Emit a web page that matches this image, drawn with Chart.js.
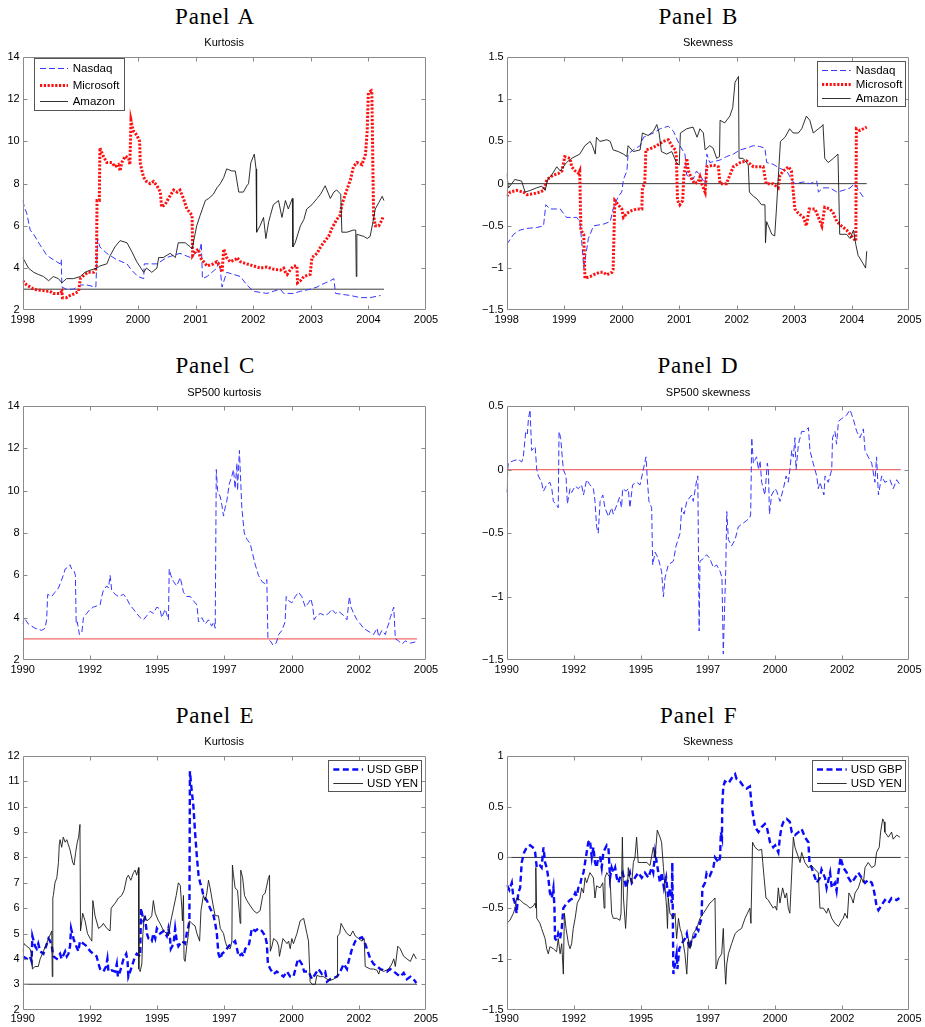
<!DOCTYPE html>
<html>
<head>
<meta charset="utf-8">
<script src="https://cdn.jsdelivr.net/npm/chart.js@4.4.1/dist/chart.umd.min.js"></script>
<style>
  html, body { margin: 0; padding: 0; background: #fff; }
  #fig { position: relative; width: 925px; height: 1027px; overflow: hidden; background: #fff; }
  .ttl { position: absolute; white-space: nowrap; text-align: center; color: #000; }
  .panel { font-family: "Liberation Serif", "Times New Roman", serif; font-size: 23px; line-height: 23px; letter-spacing: 0.8px; word-spacing: 2px; }
  .sub { font-family: "Liberation Sans", Arial, sans-serif; font-size: 11px; line-height: 11px; }
  canvas { position: absolute; }
</style>
</head>
<body>
<div id="fig"></div>
<script>
// ---------- Panel A: kurtosis, 1998-2004 ----------
const nasdaqKurt = [
  [1998.00,7.2],[1998.04,6.8],[1998.07,6.6],[1998.13,5.8],[1998.19,5.6],[1998.30,5.1],[1998.42,4.6],
  [1998.53,4.4],[1998.65,4.2],[1998.67,4.4],[1998.68,3.1],[1998.76,3.0],[1998.88,3.0],[1999.00,3.2],
  [1999.11,3.2],[1999.27,3.1],[1999.30,5.4],[1999.34,5.0],[1999.46,4.7],[1999.63,4.4],[1999.81,4.2],
  [1999.89,3.9],[2000.00,3.6],[2000.10,3.5],[2000.11,4.2],[2000.33,4.2],[2000.50,4.5],[2000.73,4.7],
  [2000.91,4.5],[2001.08,4.9],[2001.10,5.2],[2001.12,3.5],[2001.20,3.6],[2001.37,4.0],[2001.40,4.3],
  [2001.43,3.9],[2001.46,3.1],[2001.54,3.8],[2001.78,3.6],[2001.89,3.2],[2002.01,2.9],[2002.24,2.8],
  [2002.35,2.9],[2002.47,3.0],[2002.53,2.8],[2002.70,2.8],[2002.82,2.9],[2002.99,3.0],[2003.11,3.1],
  [2003.17,3.2],[2003.34,3.4],[2003.40,3.5],[2003.43,2.8],[2003.69,2.7],[2003.86,2.6],[2004.03,2.6],
  [2004.21,2.7]
];
const microsoftKurt = [
  [1998.00,3.4],[1998.07,3.2],[1998.19,3.0],[1998.30,2.95],[1998.47,2.9],[1998.53,2.8],[1998.65,2.8],
  [1998.68,2.9],[1998.69,2.6],[1998.76,2.6],[1998.82,2.7],[1998.91,2.8],[1998.97,2.9],[1999.00,3.5],
  [1999.08,3.7],[1999.14,3.8],[1999.23,3.8],[1999.28,4.0],[1999.29,7.2],[1999.33,7.2],[1999.34,9.7],
  [1999.40,9.3],[1999.46,9.0],[1999.55,9.0],[1999.60,8.8],[1999.66,8.9],[1999.69,8.6],[1999.72,9.0],
  [1999.78,9.3],[1999.84,9.2],[1999.86,8.9],[1999.88,11.0],[1999.92,10.5],[1999.98,10.3],[2000.03,10.0],
  [2000.04,9.0],[2000.07,8.6],[2000.10,8.3],[2000.15,8.1],[2000.21,8.0],[2000.27,8.1],[2000.33,7.9],
  [2000.39,7.6],[2000.41,6.9],[2000.47,7.0],[2000.53,7.3],[2000.62,7.7],[2000.68,7.6],[2000.73,7.7],
  [2000.79,7.3],[2000.85,6.8],[2000.91,6.6],[2000.94,6.5],[2000.95,4.6],[2001.00,4.8],[2001.05,4.9],
  [2001.08,4.5],[2001.14,4.3],[2001.20,4.1],[2001.31,4.2],[2001.37,4.3],[2001.43,4.1],[2001.46,3.8],
  [2001.49,4.9],[2001.54,4.5],[2001.60,4.3],[2001.69,4.4],[2001.72,4.5],[2001.78,4.3],[2001.89,4.2],
  [2002.01,4.1],[2002.12,4.0],[2002.24,4.05],[2002.35,3.95],[2002.47,3.9],[2002.53,4.0],[2002.56,3.8],
  [2002.59,3.7],[2002.64,3.9],[2002.70,4.1],[2002.76,4.1],[2002.77,3.3],[2002.82,3.4],[2002.88,3.6],
  [2002.99,3.7],[2003.02,4.5],[2003.11,4.7],[2003.17,5.0],[2003.25,5.3],[2003.31,5.5],[2003.37,5.9],
  [2003.45,6.3],[2003.51,6.5],[2003.54,7.0],[2003.60,7.5],[2003.69,8.2],[2003.74,8.8],[2003.80,9.0],
  [2003.89,8.9],[2003.95,9.4],[2003.98,10.5],[2003.99,11.5],[2004.00,12.3],[2004.05,12.4],[2004.06,12.3],
  [2004.09,6.5],[2004.12,6.0],[2004.18,6.0],[2004.24,6.3],[2004.25,6.4]
];
const amazonKurt = [
  [1998.00,4.5],[1998.04,4.3],[1998.10,4.0],[1998.19,3.8],[1998.27,3.7],[1998.36,3.6],[1998.45,3.4],
  [1998.53,3.6],[1998.62,3.5],[1998.68,3.3],[1998.76,3.5],[1998.88,3.5],[1999.00,3.6],[1999.08,3.8],
  [1999.17,3.9],[1999.29,4.0],[1999.34,4.1],[1999.46,4.2],[1999.52,4.6],[1999.60,5.0],[1999.69,5.3],
  [1999.81,5.2],[1999.89,4.8],[1999.98,4.3],[2000.10,3.8],[2000.15,4.0],[2000.24,3.8],[2000.33,4.0],
  [2000.36,4.5],[2000.44,4.5],[2000.56,4.7],[2000.65,4.5],[2000.70,5.2],[2000.82,5.2],[2000.91,5.0],
  [2000.94,4.9],[2001.02,6.0],[2001.08,6.5],[2001.17,7.2],[2001.23,7.3],[2001.31,7.5],[2001.37,7.8],
  [2001.43,8.0],[2001.49,8.3],[2001.54,8.7],[2001.63,8.6],[2001.69,8.6],[2001.75,7.6],[2001.83,7.6],
  [2001.89,7.9],[2001.92,8.0],[2001.96,9.0],[2002.02,9.4],[2002.05,8.7],[2002.06,5.7],[2002.12,6.0],
  [2002.18,6.4],[2002.22,5.4],[2002.27,6.2],[2002.30,6.5],[2002.35,7.0],[2002.44,7.2],[2002.50,6.4],
  [2002.56,7.2],[2002.61,6.8],[2002.68,7.3],[2002.69,5.0],[2002.73,5.2],[2002.82,6.0],[2002.88,6.3],
  [2002.93,6.8],[2003.02,7.0],[2003.11,7.3],[2003.17,7.5],[2003.25,7.9],[2003.34,7.3],[2003.40,7.6],
  [2003.45,7.7],[2003.52,7.5],[2003.54,5.7],[2003.63,5.7],[2003.74,5.8],[2003.78,5.8],[2003.79,3.6],
  [2003.80,5.6],[2003.92,5.5],[2003.98,5.4],[2004.03,5.5],[2004.08,6.2],[2004.12,6.8],[2004.18,7.1],
  [2004.24,7.4],[2004.27,7.2]
];
const normalKurtA = [[1998.00,3],[2004.27,3]];

// ---------- Panel B: skewness, 1998-2004 ----------
const nasdaqSkew = [
  [1998.00,-0.72],[1998.12,-0.6],[1998.23,-0.55],[1998.35,-0.53],[1998.52,-0.52],[1998.64,-0.5],
  [1998.68,-0.25],[1998.75,-0.3],[1998.93,-0.3],[1999.04,-0.4],[1999.22,-0.4],[1999.27,-0.45],
  [1999.30,-0.65],[1999.34,-1.0],[1999.42,-0.65],[1999.51,-0.5],[1999.68,-0.48],[1999.80,-0.45],
  [1999.85,-0.3],[1999.94,-0.15],[2000.00,-0.1],[2000.03,0.05],[2000.09,0.15],[2000.11,0.35],
  [2000.20,0.4],[2000.32,0.45],[2000.38,0.55],[2000.55,0.6],[2000.67,0.65],[2000.81,0.68],[2000.90,0.62],
  [2001.01,0.45],[2001.10,0.35],[2001.13,0.1],[2001.24,0.05],[2001.30,0.15],[2001.36,0.1],[2001.45,0.0],
  [2001.48,0.35],[2001.53,0.25],[2001.71,0.28],[2001.82,0.32],[2001.94,0.35],[2002.06,0.4],[2002.17,0.42],
  [2002.29,0.45],[2002.40,0.44],[2002.49,0.42],[2002.52,0.25],[2002.63,0.23],[2002.75,0.18],[2002.87,0.15],
  [2002.95,0.05],[2003.01,0.0],[2003.16,0.02],[2003.27,0.0],[2003.39,0.03],[2003.42,-0.1],[2003.50,-0.05],
  [2003.62,-0.05],[2003.74,-0.1],[2003.85,-0.08],[2003.97,-0.05],[2004.05,0.0],[2004.14,-0.1],[2004.21,-0.17]
];
const microsoftSkew = [
  [1998.00,-0.15],[1998.06,-0.1],[1998.17,-0.08],[1998.29,-0.1],[1998.35,-0.13],[1998.46,-0.12],
  [1998.58,-0.1],[1998.64,-0.08],[1998.70,0.05],[1998.81,0.1],[1998.90,0.12],[1998.96,0.15],[1999.01,0.32],
  [1999.10,0.3],[1999.13,0.2],[1999.19,0.15],[1999.25,0.12],[1999.27,0.15],[1999.29,-0.55],[1999.34,-0.6],
  [1999.36,-1.12],[1999.45,-1.1],[1999.54,-1.07],[1999.62,-1.05],[1999.68,-1.05],[1999.74,-1.08],
  [1999.83,-1.05],[1999.85,-1.02],[1999.88,-0.2],[1999.94,-0.25],[2000.00,-0.3],[2000.03,-0.4],
  [2000.09,-0.35],[2000.17,-0.32],[2000.26,-0.3],[2000.35,-0.3],[2000.36,-0.05],[2000.40,0.0],[2000.42,0.4],
  [2000.52,0.42],[2000.61,0.45],[2000.72,0.5],[2000.81,0.52],[2000.87,0.45],[2000.93,0.4],[2000.95,0.32],
  [2000.97,-0.2],[2001.01,-0.25],[2001.06,-0.2],[2001.08,0.1],[2001.13,0.3],[2001.16,0.15],[2001.22,0.05],
  [2001.27,0.0],[2001.33,0.02],[2001.36,0.08],[2001.39,0.0],[2001.45,-0.1],[2001.48,0.2],[2001.59,0.22],
  [2001.68,0.2],[2001.71,0.0],[2001.82,0.0],[2001.88,0.1],[2001.94,0.2],[2002.06,0.25],[2002.17,0.27],
  [2002.29,0.2],[2002.46,0.2],[2002.51,0.0],[2002.63,0.0],[2002.72,-0.05],[2002.75,0.1],[2002.81,0.15],
  [2002.90,0.2],[2002.95,0.15],[2003.01,-0.3],[2003.07,-0.35],[2003.16,-0.4],[2003.21,-0.5],[2003.26,-0.3],
  [2003.36,-0.3],[2003.42,-0.4],[2003.48,-0.5],[2003.53,-0.28],[2003.62,-0.3],[2003.68,-0.35],[2003.74,-0.45],
  [2003.82,-0.5],[2003.91,-0.55],[2003.97,-0.6],[2004.03,-0.65],[2004.07,-0.68],[2004.08,0.65],
  [2004.14,0.63],[2004.20,0.65],[2004.26,0.67]
];
const amazonSkew = [
  [1998.00,0.12],[1998.03,-0.05],[1998.09,0.0],[1998.14,0.05],[1998.26,0.03],[1998.32,-0.1],[1998.41,-0.08],
  [1998.52,-0.05],[1998.61,-0.03],[1998.67,-0.08],[1998.71,0.05],[1998.78,0.1],[1998.87,0.2],[1998.93,0.15],
  [1999.04,0.25],[1999.13,0.3],[1999.27,0.35],[1999.36,0.45],[1999.45,0.5],[1999.49,0.45],[1999.54,0.35],
  [1999.56,0.55],[1999.62,0.5],[1999.74,0.52],[1999.80,0.5],[1999.85,0.4],[1999.94,0.38],[2000.03,0.35],
  [2000.09,0.32],[2000.11,0.45],[2000.20,0.38],[2000.32,0.4],[2000.36,0.6],[2000.46,0.57],[2000.55,0.62],
  [2000.61,0.7],[2000.65,0.6],[2000.69,0.38],[2000.78,0.35],[2000.87,0.38],[2000.95,0.25],[2001.00,0.22],
  [2001.02,0.6],[2001.13,0.65],[2001.24,0.67],[2001.31,0.55],[2001.36,0.65],[2001.42,0.6],[2001.45,0.4],
  [2001.53,0.45],[2001.59,0.42],[2001.65,0.3],[2001.70,0.32],[2001.71,0.75],[2001.79,0.72],[2001.88,0.8],
  [2001.93,0.9],[2001.97,1.2],[2002.03,1.27],[2002.04,0.3],[2002.11,0.3],[2002.17,0.25],[2002.20,0.22],
  [2002.22,-0.1],[2002.29,-0.15],[2002.35,-0.18],[2002.43,-0.25],[2002.49,-0.25],[2002.50,-0.7],
  [2002.52,-0.45],[2002.55,-0.5],[2002.61,-0.6],[2002.66,-0.62],[2002.69,-0.3],[2002.72,0.05],[2002.76,0.5],
  [2002.84,0.55],[2002.92,0.65],[2002.98,0.6],[2003.07,0.6],[2003.13,0.65],[2003.21,0.8],[2003.27,0.75],
  [2003.33,0.6],[2003.42,0.65],[2003.48,0.68],[2003.50,0.7],[2003.53,0.3],[2003.59,0.25],[2003.68,0.3],
  [2003.76,0.35],[2003.79,-0.6],[2003.91,-0.6],[2003.97,-0.65],[2004.03,-0.55],[2004.07,-0.72],
  [2004.11,-0.85],[2004.20,-0.95],[2004.24,-1.0],[2004.26,-0.8]
];
const zeroSkewB = [[1998.00,0],[2004.26,0]];

// ---------- Panel C: SP500 kurtosis, 1990-2004 ----------
const sp500Kurt = [
  [1990.00,3.7],[1990.05,4.0],[1990.21,3.7],[1990.33,3.6],[1990.46,3.5],[1990.71,3.4],[1990.83,3.5],
  [1990.89,3.9],[1990.93,5.1],[1991.08,5.0],[1991.20,5.2],[1991.33,5.4],[1991.39,5.6],[1991.51,6.0],
  [1991.58,6.3],[1991.70,6.4],[1991.76,6.5],[1991.82,6.3],[1991.91,6.2],[1991.96,6.0],[1991.99,3.7],
  [1992.03,3.8],[1992.11,3.2],[1992.20,3.3],[1992.26,4.0],[1992.38,4.2],[1992.51,4.4],[1992.63,4.5],
  [1992.75,4.55],[1992.88,4.6],[1992.94,5.0],[1993.00,5.3],[1993.13,5.5],[1993.19,5.4],[1993.25,6.0],
  [1993.31,5.3],[1993.44,5.1],[1993.56,5.0],[1993.75,5.1],[1993.87,4.9],[1993.99,4.6],[1994.12,4.4],
  [1994.24,4.2],[1994.37,4.0],[1994.49,3.9],[1994.62,4.1],[1994.74,4.3],[1994.86,4.2],[1994.99,4.5],
  [1995.11,4.4],[1995.17,4.0],[1995.30,4.4],[1995.42,3.9],[1995.45,6.3],[1995.51,6.0],[1995.61,5.7],
  [1995.73,5.5],[1995.86,5.9],[1995.98,5.2],[1996.10,5.0],[1996.23,5.0],[1996.35,4.8],[1996.48,4.6],
  [1996.54,3.8],[1996.66,4.0],[1996.79,3.7],[1996.91,3.9],[1997.03,3.6],[1997.10,3.8],[1997.16,3.5],
  [1997.20,11.0],[1997.25,10.0],[1997.35,9.7],[1997.41,9.3],[1997.47,8.8],[1997.53,9.2],[1997.59,9.5],
  [1997.68,10.3],[1997.78,10.7],[1997.84,11.0],[1997.90,10.1],[1997.97,11.3],[1997.99,10.0],[1998.06,11.9],
  [1998.15,9.2],[1998.24,8.0],[1998.34,7.7],[1998.46,7.5],[1998.65,6.5],[1998.77,6.0],[1998.90,5.7],
  [1999.02,5.6],[1999.08,5.8],[1999.12,3.0],[1999.21,2.9],[1999.31,2.7],[1999.43,2.8],[1999.52,3.2],
  [1999.64,3.4],[1999.73,3.7],[1999.76,3.8],[1999.80,5.0],[1999.89,4.8],[2000.01,4.7],[2000.14,5.0],
  [2000.26,5.2],[2000.38,5.0],[2000.51,4.5],[2000.63,4.7],[2000.72,4.9],[2000.79,4.5],[2000.84,3.9],
  [2000.94,4.1],[2001.07,4.2],[2001.25,4.1],[2001.38,4.2],[2001.50,4.4],[2001.63,4.2],[2001.75,4.3],
  [2001.94,4.1],[2002.06,3.9],[2002.15,5.0],[2002.21,4.5],[2002.31,4.2],[2002.43,3.9],[2002.56,3.7],
  [2002.68,3.5],[2002.80,3.4],[2002.93,3.3],[2003.05,3.2],[2003.18,3.5],[2003.24,3.1],[2003.36,3.4],
  [2003.49,3.2],[2003.55,3.5],[2003.61,3.7],[2003.67,4.0],[2003.80,4.5],[2003.86,3.0],[2003.98,2.9],
  [2004.11,2.75],[2004.23,2.9],[2004.42,2.8],[2004.60,2.85]
];
const normalKurtC = [[1990.00,3],[2004.67,3]];

// ---------- Panel D: SP500 skewness, 1990-2004 ----------
const sp500Skew = [
  [1990.00,-0.15],[1990.01,-0.18],[1990.04,0.0],[1990.06,0.05],[1990.25,0.07],[1990.43,0.08],[1990.56,0.06],
  [1990.62,0.1],[1990.71,0.3],[1990.77,0.28],[1990.81,0.4],[1990.87,0.47],[1990.93,0.15],[1991.06,0.18],
  [1991.12,0.0],[1991.18,-0.05],[1991.30,-0.1],[1991.37,-0.17],[1991.49,-0.12],[1991.61,-0.1],[1991.68,-0.15],
  [1991.74,-0.25],[1991.86,-0.28],[1991.92,-0.3],[1991.95,0.3],[1992.01,0.25],[1992.11,0.0],[1992.21,-0.05],
  [1992.26,-0.27],[1992.36,-0.15],[1992.42,-0.18],[1992.55,-0.13],[1992.67,-0.15],[1992.79,-0.12],
  [1992.86,-0.2],[1992.98,-0.08],[1993.10,-0.12],[1993.23,-0.15],[1993.29,-0.25],[1993.35,-0.45],
  [1993.41,-0.5],[1993.48,-0.25],[1993.58,-0.2],[1993.66,-0.3],[1993.79,-0.37],[1993.91,-0.3],[1993.97,-0.35],
  [1994.10,-0.28],[1994.20,-0.22],[1994.28,-0.3],[1994.32,-0.15],[1994.45,-0.17],[1994.53,-0.15],
  [1994.59,-0.3],[1994.69,-0.12],[1994.84,-0.1],[1994.97,-0.12],[1995.09,0.0],[1995.19,0.1],[1995.24,-0.08],
  [1995.30,-0.25],[1995.40,-0.3],[1995.44,-0.75],[1995.53,-0.65],[1995.65,-0.7],[1995.77,-0.8],[1995.84,-1.0],
  [1995.90,-0.85],[1996.02,-0.75],[1996.21,-0.72],[1996.31,-0.6],[1996.46,-0.5],[1996.52,-0.3],[1996.61,-0.35],
  [1996.71,-0.25],[1996.89,-0.2],[1996.95,-0.25],[1997.08,-0.08],[1997.12,-0.05],[1997.17,-1.27],
  [1997.20,-0.72],[1997.33,-0.7],[1997.45,-0.67],[1997.57,-0.7],[1997.70,-0.77],[1997.82,-0.75],
  [1997.95,-0.8],[1998.02,-0.85],[1998.07,-1.45],[1998.13,-1.0],[1998.16,-0.8],[1998.20,-0.33],
  [1998.26,-0.55],[1998.38,-0.6],[1998.51,-0.55],[1998.63,-0.45],[1998.82,-0.42],[1998.94,-0.4],
  [1999.06,-0.38],[1999.09,-0.35],[1999.13,0.25],[1999.19,0.05],[1999.31,0.1],[1999.38,0.0],[1999.44,0.07],
  [1999.50,-0.1],[1999.62,-0.2],[1999.71,0.05],[1999.75,0.0],[1999.79,-0.35],[1999.87,-0.2],[2000.00,-0.15],
  [2000.06,-0.17],[2000.18,-0.25],[2000.31,-0.15],[2000.41,-0.05],[2000.49,-0.1],[2000.55,0.0],[2000.62,0.15],
  [2000.68,0.1],[2000.74,0.25],[2000.78,0.0],[2000.87,0.2],[2000.99,0.3],[2001.11,0.3],[2001.24,0.33],
  [2001.30,0.15],[2001.42,0.05],[2001.55,-0.05],[2001.61,-0.15],[2001.67,-0.1],[2001.82,-0.2],[2001.86,-0.05],
  [2001.98,-0.1],[2002.11,0.0],[2002.14,0.25],[2002.23,0.3],[2002.29,0.2],[2002.36,0.38],[2002.48,0.4],
  [2002.67,0.43],[2002.79,0.47],[2002.91,0.4],[2003.04,0.3],[2003.16,0.25],[2003.29,0.32],[2003.35,0.15],
  [2003.47,0.1],[2003.60,0.05],[2003.72,-0.1],[2003.78,0.1],[2003.85,-0.2],[2003.97,-0.05],[2004.09,-0.1],
  [2004.28,-0.08],[2004.40,-0.15],[2004.53,-0.08],[2004.65,-0.12]
];
const zeroSkewD = [[1990.00,0],[2004.68,0]];

// ---------- Panel E: FX kurtosis, 1990-2004 ----------
const gbpKurt = [
  [1990.00,4.1],[1990.15,4.0],[1990.27,4.1],[1990.33,3.9],[1990.36,4.9],[1990.46,4.5],[1990.52,4.4],
  [1990.58,4.6],[1990.65,4.3],[1990.77,4.2],[1990.87,4.5],[1990.96,4.8],[1991.02,4.7],[1991.08,4.5],
  [1991.14,4.1],[1991.27,4.0],[1991.39,4.2],[1991.45,4.0],[1991.58,4.3],[1991.64,4.1],[1991.70,4.2],
  [1991.76,4.5],[1991.80,5.2],[1991.89,4.8],[1991.95,4.6],[1992.07,4.3],[1992.13,4.7],[1992.26,4.6],
  [1992.38,4.5],[1992.51,4.3],[1992.63,4.2],[1992.75,4.1],[1992.82,3.8],[1992.88,3.6],[1993.00,3.5],
  [1993.10,3.7],[1993.15,4.0],[1993.19,3.5],[1993.31,3.55],[1993.44,3.5],[1993.50,3.8],[1993.54,3.3],
  [1993.62,3.5],[1993.75,4.0],[1993.85,4.2],[1993.90,3.9],[1993.93,3.3],[1994.06,3.7],[1994.12,3.9],
  [1994.18,4.1],[1994.24,4.2],[1994.37,4.1],[1994.40,6.0],[1994.49,5.5],[1994.55,5.6],[1994.62,5.0],
  [1994.68,4.8],[1994.80,4.7],[1994.86,5.0],[1994.93,4.8],[1994.99,5.2],[1995.11,5.0],[1995.24,5.1],
  [1995.36,4.9],[1995.42,5.2],[1995.48,4.8],[1995.51,4.4],[1995.61,4.6],[1995.67,5.2],[1995.73,4.7],
  [1995.79,4.5],[1995.92,4.7],[1996.04,4.6],[1996.10,5.0],[1996.17,5.3],[1996.20,5.5],[1996.22,11.4],
  [1996.27,10.8],[1996.35,10.0],[1996.41,9.0],[1996.48,8.0],[1996.54,7.3],[1996.60,7.0],[1996.66,6.8],
  [1996.72,6.5],[1996.85,6.3],[1996.97,6.0],[1997.10,5.7],[1997.16,5.4],[1997.22,5.0],[1997.28,4.2],
  [1997.35,4.0],[1997.41,4.2],[1997.53,4.3],[1997.66,4.5],[1997.78,4.6],[1997.90,4.7],[1997.97,4.4],
  [1998.03,4.1],[1998.15,4.2],[1998.21,4.1],[1998.28,4.4],[1998.40,4.5],[1998.46,4.8],[1998.52,5.2],
  [1998.65,5.1],[1998.77,5.2],[1998.90,5.1],[1999.02,4.9],[1999.08,4.6],[1999.12,3.8],[1999.21,3.6],
  [1999.33,3.4],[1999.45,3.5],[1999.58,3.4],[1999.70,3.3],[1999.83,3.5],[1999.95,3.3],[2000.07,3.3],
  [2000.24,4.0],[2000.32,3.9],[2000.38,3.8],[2000.47,3.5],[2000.63,3.5],[2000.76,3.2],[2001.00,3.6],
  [2001.13,3.4],[2001.25,3.5],[2001.32,3.1],[2001.44,3.2],[2001.56,3.25],[2001.69,3.3],[2001.81,3.5],
  [2001.94,3.8],[2002.06,3.6],[2002.12,3.9],[2002.25,4.4],[2002.37,4.7],[2002.49,4.8],[2002.62,4.85],
  [2002.74,4.6],[2002.80,4.4],[2002.93,4.0],[2003.05,3.8],[2003.18,3.7],[2003.30,3.6],[2003.42,3.55],
  [2003.55,3.5],[2003.67,3.6],[2003.80,3.5],[2004.04,3.3],[2004.17,3.45],[2004.29,3.2],[2004.42,3.3],
  [2004.54,3.2],[2004.64,3.05]
];
const yenKurt = [
  [1990.00,4.3],[1990.05,4.6],[1990.15,4.5],[1990.27,4.4],[1990.33,4.2],[1990.36,3.6],[1990.46,3.7],
  [1990.58,3.7],[1990.65,4.0],[1990.77,4.3],[1990.89,4.6],[1990.96,4.8],[1991.08,5.1],[1991.10,3.3],
  [1991.12,6.4],[1991.14,6.5],[1991.20,7.0],[1991.27,7.2],[1991.33,7.8],[1991.36,8.5],[1991.39,8.7],
  [1991.45,8.4],[1991.51,8.8],[1991.58,8.6],[1991.64,8.7],[1991.70,8.5],[1991.76,8.3],[1991.86,7.8],
  [1991.91,7.7],[1991.97,8.2],[1992.03,8.6],[1992.08,8.8],[1992.13,9.3],[1992.15,5.1],[1992.20,5.5],
  [1992.23,5.8],[1992.32,5.5],[1992.41,5.0],[1992.51,4.8],[1992.57,4.7],[1992.61,6.3],[1992.69,5.7],
  [1992.82,5.2],[1992.94,5.3],[1993.00,5.4],[1993.13,5.2],[1993.25,5.1],[1993.29,6.0],[1993.44,6.2],
  [1993.56,6.4],[1993.68,6.5],[1993.77,6.7],[1993.87,7.2],[1993.93,7.3],[1994.02,7.1],[1994.12,7.4],
  [1994.18,7.5],[1994.24,7.3],[1994.31,7.6],[1994.32,3.6],[1994.37,3.5],[1994.43,3.8],[1994.47,5.0],
  [1994.52,5.7],[1994.62,5.5],[1994.74,5.6],[1994.80,5.7],[1994.86,6.3],[1994.93,5.8],[1995.05,5.5],
  [1995.11,5.4],[1995.24,5.1],[1995.36,5.0],[1995.42,4.9],[1995.51,5.5],[1995.61,6.0],[1995.71,6.5],
  [1995.79,7.0],[1995.86,6.9],[1995.92,6.0],[1995.94,5.5],[1995.98,6.5],[1996.00,4.0],[1996.04,3.9],
  [1996.10,4.5],[1996.17,5.0],[1996.20,5.5],[1996.29,5.4],[1996.41,5.3],[1996.48,5.0],[1996.58,4.7],
  [1996.63,5.9],[1996.72,6.5],[1996.79,6.3],[1996.85,6.6],[1996.91,7.1],[1996.97,6.8],[1997.10,6.0],
  [1997.16,5.7],[1997.28,5.7],[1997.35,5.2],[1997.47,5.0],[1997.53,4.7],[1997.59,4.5],[1997.72,4.4],
  [1997.78,4.7],[1997.80,7.7],[1997.84,7.3],[1997.90,6.8],[1997.99,6.7],[1998.09,5.4],[1998.11,7.5],
  [1998.18,7.2],[1998.25,6.5],[1998.34,6.3],[1998.46,6.1],[1998.59,5.9],[1998.71,5.8],[1998.83,5.9],
  [1998.93,6.5],[1999.02,6.6],[1999.14,7.2],[1999.18,7.3],[1999.21,4.3],[1999.27,4.5],[1999.33,4.8],
  [1999.45,4.7],[1999.52,4.5],[1999.55,4.1],[1999.68,4.8],[1999.83,4.6],[1999.89,4.7],[1999.95,4.4],
  [2000.01,4.8],[2000.07,4.6],[2000.20,5.0],[2000.32,5.5],[2000.45,5.6],[2000.57,5.0],[2000.63,4.7],
  [2000.69,3.1],[2000.76,3.0],[2000.88,3.0],[2000.94,3.35],[2001.07,3.3],[2001.19,3.3],[2001.32,3.2],
  [2001.44,3.15],[2001.56,3.2],[2001.69,3.3],[2001.71,4.9],[2001.79,5.0],[2001.84,5.4],[2001.94,5.2],
  [2002.06,5.0],[2002.18,4.9],[2002.28,5.1],[2002.37,4.9],[2002.49,4.8],[2002.62,4.7],[2002.70,4.8],
  [2002.74,3.7],[2002.93,3.6],[2003.05,3.6],[2003.18,3.55],[2003.24,3.4],[2003.30,3.6],[2003.42,3.5],
  [2003.61,3.6],[2003.73,3.8],[2003.80,4.0],[2003.86,3.7],[2003.95,4.5],[2004.04,4.4],[2004.17,4.1],
  [2004.29,4.0],[2004.42,3.9],[2004.54,4.2],[2004.64,4.0]
];
const normalKurtE = [[1990.00,3],[2004.67,3]];

// ---------- Panel F: FX skewness, 1990-2004 ----------
const gbpSkew = [
  [1990.00,-0.27],[1990.10,-0.32],[1990.19,-0.25],[1990.25,-0.4],[1990.31,-0.45],[1990.37,-0.55],
  [1990.43,-0.35],[1990.50,-0.3],[1990.56,-0.05],[1990.65,0.05],[1990.75,0.1],[1990.87,0.12],[1990.97,0.1],
  [1991.06,0.05],[1991.12,-0.1],[1991.24,-0.08],[1991.30,-0.1],[1991.37,0.1],[1991.43,-0.05],[1991.49,-0.1],
  [1991.55,-0.2],[1991.61,-0.35],[1991.68,-0.4],[1991.74,-0.3],[1991.78,-0.5],[1991.80,-0.8],[1991.86,-0.82],
  [1991.92,-0.75],[1991.99,-0.8],[1992.05,-0.7],[1992.11,-0.5],[1992.24,-0.45],[1992.36,-0.42],[1992.48,-0.4],
  [1992.55,-0.35],[1992.61,-0.38],[1992.67,-0.3],[1992.73,-0.28],[1992.79,-0.2],[1992.86,-0.15],
  [1992.92,-0.05],[1992.98,0.05],[1993.04,0.15],[1993.10,0.17],[1993.17,0.0],[1993.23,0.1],[1993.29,-0.05],
  [1993.35,-0.1],[1993.41,0.0],[1993.48,0.0],[1993.54,-0.1],[1993.60,0.05],[1993.73,0.12],[1993.79,0.1],
  [1993.85,-0.2],[1993.91,-0.1],[1993.97,-0.15],[1994.04,-0.1],[1994.10,-0.2],[1994.16,-0.25],[1994.22,-0.2],
  [1994.32,-0.15],[1994.41,-0.25],[1994.45,-0.3],[1994.53,-0.2],[1994.59,-0.15],[1994.66,-0.25],
  [1994.78,-0.2],[1994.90,-0.15],[1995.03,-0.2],[1995.15,-0.15],[1995.28,-0.2],[1995.40,-0.1],[1995.46,-0.15],
  [1995.53,0.05],[1995.59,-0.05],[1995.65,-0.15],[1995.71,-0.25],[1995.77,-0.15],[1995.86,-0.3],
  [1995.94,-0.2],[1996.02,-0.4],[1996.08,-0.3],[1996.15,-0.45],[1996.17,-0.05],[1996.21,-1.15],
  [1996.27,-1.05],[1996.33,-0.95],[1996.36,-1.1],[1996.43,-0.9],[1996.52,-0.85],[1996.64,-0.8],
  [1996.71,-0.75],[1996.77,-0.85],[1996.83,-0.9],[1996.89,-0.8],[1997.02,-0.78],[1997.08,-0.7],
  [1997.14,-0.72],[1997.20,-0.65],[1997.26,-0.6],[1997.29,-0.3],[1997.39,-0.25],[1997.45,-0.15],
  [1997.57,-0.18],[1997.70,-0.1],[1997.76,0.0],[1997.89,-0.05],[1997.95,0.0],[1997.98,0.25],[1998.02,0.2],
  [1998.03,0.5],[1998.07,0.7],[1998.13,0.75],[1998.26,0.73],[1998.38,0.78],[1998.51,0.82],[1998.57,0.77],
  [1998.69,0.75],[1998.82,0.7],[1998.94,0.68],[1999.06,0.7],[1999.13,0.5],[1999.19,0.4],[1999.25,0.3],
  [1999.38,0.25],[1999.50,0.3],[1999.62,0.33],[1999.69,0.3],[1999.81,0.15],[1999.93,0.1],[2000.00,0.12],
  [2000.12,0.05],[2000.18,0.2],[2000.24,0.3],[2000.31,0.35],[2000.43,0.38],[2000.55,0.35],[2000.62,0.25],
  [2000.74,0.22],[2000.87,0.25],[2000.99,0.28],[2001.11,0.2],[2001.24,0.15],[2001.28,-0.05],[2001.36,-0.1],
  [2001.42,-0.15],[2001.49,-0.2],[2001.55,-0.25],[2001.67,-0.2],[2001.73,-0.12],[2001.86,-0.2],
  [2001.92,-0.3],[2002.05,-0.15],[2002.11,-0.3],[2002.23,-0.25],[2002.29,-0.33],[2002.36,-0.15],
  [2002.44,0.0],[2002.54,-0.1],[2002.67,-0.15],[2002.73,-0.2],[2002.85,-0.25],[2002.98,-0.2],[2003.10,-0.15],
  [2003.22,-0.2],[2003.35,-0.25],[2003.47,-0.22],[2003.60,-0.25],[2003.66,-0.3],[2003.72,-0.38],
  [2003.78,-0.48],[2003.85,-0.52],[2003.97,-0.47],[2004.09,-0.42],[2004.22,-0.45],[2004.34,-0.4],
  [2004.53,-0.42],[2004.63,-0.4]
];
const yenSkew = [
  [1990.00,-0.65],[1990.12,-0.62],[1990.25,-0.55],[1990.31,-0.5],[1990.37,-0.4],[1990.50,-0.42],
  [1990.62,-0.45],[1990.75,-0.47],[1990.87,-0.5],[1990.99,-0.48],[1991.06,-0.45],[1991.08,-0.5],
  [1991.09,-0.1],[1991.12,-0.6],[1991.24,-0.65],[1991.30,-0.7],[1991.43,-0.8],[1991.49,-0.9],[1991.55,-0.95],
  [1991.61,-0.88],[1991.74,-0.9],[1991.86,-0.93],[1991.92,-0.8],[1991.99,-0.95],[1992.05,-0.85],
  [1992.11,-1.15],[1992.15,-0.55],[1992.21,-0.7],[1992.30,-0.85],[1992.36,-0.9],[1992.42,-0.85],
  [1992.48,-0.7],[1992.55,-0.6],[1992.63,-0.45],[1992.73,-0.4],[1992.79,-0.3],[1992.86,-0.35],[1992.92,-0.2],
  [1992.98,-0.25],[1993.10,-0.15],[1993.23,-0.2],[1993.29,-0.4],[1993.35,-0.28],[1993.48,-0.3],
  [1993.58,-0.25],[1993.63,-0.5],[1993.66,-0.2],[1993.73,-0.15],[1993.85,-0.2],[1993.91,-0.55],[1993.97,-0.6],
  [1994.10,-0.6],[1994.22,-0.62],[1994.26,-0.55],[1994.31,0.2],[1994.35,-0.4],[1994.43,-0.7],[1994.47,-0.5],
  [1994.53,-0.1],[1994.59,-0.2],[1994.66,-0.25],[1994.72,-0.05],[1994.78,0.0],[1994.84,0.2],[1994.90,-0.05],
  [1995.03,-0.05],[1995.22,-0.05],[1995.34,-0.08],[1995.46,0.1],[1995.53,0.0],[1995.61,0.27],[1995.71,0.2],
  [1995.77,0.15],[1995.84,-0.1],[1995.90,-0.3],[1995.96,-0.5],[1995.99,-0.7],[1996.02,-0.4],[1996.08,-0.55],
  [1996.21,-0.6],[1996.27,-0.55],[1996.33,-0.8],[1996.40,-0.6],[1996.46,-0.7],[1996.52,-0.75],[1996.58,-0.85],
  [1996.64,-0.95],[1996.71,-1.15],[1996.77,-0.8],[1996.83,-0.9],[1996.95,-0.75],[1997.08,-0.7],[1997.20,-0.6],
  [1997.33,-0.55],[1997.45,-0.5],[1997.57,-0.45],[1997.70,-0.42],[1997.76,-0.4],[1997.80,-1.1],[1997.89,-1.0],
  [1998.01,-0.95],[1998.07,-0.7],[1998.11,-1.0],[1998.16,-1.25],[1998.20,-1.05],[1998.26,-0.95],
  [1998.38,-0.85],[1998.51,-0.75],[1998.63,-0.72],[1998.75,-0.7],[1998.88,-0.6],[1998.97,-0.55],
  [1999.06,-0.5],[1999.10,-0.65],[1999.16,0.15],[1999.25,0.1],[1999.38,0.07],[1999.50,0.08],[1999.54,-0.05],
  [1999.59,-0.2],[1999.66,-0.4],[1999.75,-0.42],[1999.81,-0.45],[1999.93,-0.5],[2000.00,-0.48],[2000.06,-0.52],
  [2000.12,-0.3],[2000.18,-0.45],[2000.28,-0.3],[2000.37,-0.4],[2000.43,-0.35],[2000.49,-0.5],[2000.55,-0.55],
  [2000.68,0.2],[2000.74,0.1],[2000.87,0.0],[2000.93,-0.05],[2000.99,0.05],[2001.11,-0.05],[2001.24,-0.1],
  [2001.36,-0.08],[2001.49,-0.12],[2001.61,-0.15],[2001.67,-0.5],[2001.80,-0.5],[2001.92,-0.55],
  [2001.98,-0.5],[2002.11,-0.6],[2002.23,-0.65],[2002.36,-0.68],[2002.48,-0.62],[2002.54,-0.6],
  [2002.60,-0.55],[2002.69,-0.6],[2002.75,-0.35],[2002.85,-0.4],[2002.91,-0.45],[2002.98,-0.35],
  [2003.10,-0.3],[2003.22,-0.2],[2003.29,-0.25],[2003.35,-0.1],[2003.47,-0.05],[2003.60,-0.1],[2003.72,-0.08],
  [2003.78,0.05],[2003.88,0.1],[2003.93,0.25],[2004.01,0.38],[2004.06,0.35],[2004.09,0.25],[2004.22,0.2],
  [2004.34,0.25],[2004.40,0.18],[2004.53,0.22],[2004.65,0.2]
];
const zeroSkewF = [[1990.00,0],[2004.68,0]];

// ---------- tick values ----------
const yearTicksShort = [1998, 1999, 2000, 2001, 2002, 2003, 2004, 2005];
const yearTicksLong = [1990, 1992.5, 1995, 1997.5, 2000, 2002.5, 2005];

// ---------- drawing helpers ----------
const fig = document.getElementById('fig');

const styles = {
  blueThin:  { borderColor: 'rgb(55,55,255)', borderWidth: 1, borderDash: [6, 3] },
  redDotted: { borderColor: '#ff1010', borderWidth: 3, borderDash: [2.2, 1.6] },
  black:     { borderColor: '#1a1a1a', borderWidth: 0.9, borderDash: [] },
  blueThick: { borderColor: '#0a0aff', borderWidth: 2.4, borderDash: [6, 3.5] },
  refBlack:  { borderColor: '#3a3a3a', borderWidth: 1, borderDash: [] },
  refRed:    { borderColor: '#f26a6a', borderWidth: 1.2, borderDash: [] }
};

function series(points, style, label, order) {
  return Object.assign({
    label: label || '',
    data: points.map(p => ({ x: p[0], y: p[1] })),
    pointRadius: 0,
    pointHoverRadius: 0,
    fill: false,
    tension: 0,
    borderCapStyle: 'butt',
    borderJoinStyle: 'miter',
    order: order
  }, style);
}

function fmtNum(v) {
  const r = Math.round(v * 10) / 10;
  if (Math.abs(r) < 1e-9) return '0';
  return (r < 0 ? '\u2212' : '') + String(Math.abs(r));
}

// axes frame with inward tick marks on all four sides
const boxTicks = {
  id: 'boxTicks',
  afterDatasetsDraw(chart) {
    const { ctx, chartArea: a, scales: { x, y } } = chart;
    const L = Math.round(a.left) + 0.5, R = Math.round(a.right) - 0.5;
    const T = Math.round(a.top) + 0.5, B = Math.round(a.bottom) - 0.5;
    const len = 4;
    ctx.save();
    ctx.strokeStyle = '#8a8a8a';
    ctx.lineWidth = 1;
    ctx.setLineDash([]);
    ctx.beginPath();
    ctx.rect(L, T, R - L, B - T);
    x.ticks.forEach(t => {
      const px = Math.round(x.getPixelForValue(t.value)) + 0.5;
      if (px <= L + 1 || px >= R - 1) return;
      ctx.moveTo(px, B); ctx.lineTo(px, B - len);
      ctx.moveTo(px, T); ctx.lineTo(px, T + len);
    });
    y.ticks.forEach(t => {
      const py = Math.round(y.getPixelForValue(t.value)) + 0.5;
      if (py <= T + 1 || py >= B - 1) return;
      ctx.moveTo(L, py); ctx.lineTo(L + len, py);
      ctx.moveTo(R, py); ctx.lineTo(R - len, py);
    });
    ctx.stroke();
    ctx.restore();
  }
};

// boxed legend with line samples taken from the dataset styles
const boxLegend = {
  id: 'boxLegend',
  afterDraw(chart, args, o) {
    if (!o || !o.show) return;
    const { ctx, chartArea: a } = chart;
    const left = o.anchor === 'left' ? a.left + o.dx : a.right - o.dx - o.w;
    const top = a.top + o.dy;
    ctx.save();
    ctx.fillStyle = '#fff';
    ctx.fillRect(left, top, o.w, o.h);
    ctx.strokeStyle = '#555';
    ctx.lineWidth = 1;
    ctx.strokeRect(Math.round(left) + 0.5, Math.round(top) + 0.5, Math.round(o.w), Math.round(o.h));
    ctx.font = '11.5px "Liberation Sans", Arial, sans-serif';
    ctx.textBaseline = 'middle';
    let i = 0;
    chart.data.datasets.forEach(ds => {
      if (!ds.label) return;
      const cy = Math.round(top + o.first + i * o.step) + 0.5;
      ctx.save();
      ctx.strokeStyle = ds.borderColor;
      ctx.lineWidth = ds.borderWidth;
      ctx.setLineDash(ds.borderDash || []);
      ctx.beginPath();
      ctx.moveTo(left + o.x0, cy);
      ctx.lineTo(left + o.x1, cy);
      ctx.stroke();
      ctx.restore();
      ctx.fillStyle = '#000';
      ctx.fillText(ds.label, left + o.tx, cy);
      i++;
    });
    ctx.restore();
  }
};

function addText(txt, cls, cx, baseline, asc) {
  const d = document.createElement('div');
  d.className = 'ttl ' + cls;
  d.textContent = txt;
  d.style.left = (cx - 150) + 'px';
  d.style.width = '300px';
  d.style.top = (baseline - asc) + 'px';
  fig.appendChild(d);
}

function makePanel(p) {
  const yw = p.yw, padTop = 10, padRight = p.padRight, xh = 18;
  const left = p.l - yw, top = p.t - padTop;
  const width = p.r + padRight - left, height = p.b - top + xh;
  const cv = document.createElement('canvas');
  cv.width = Math.round(width); cv.height = Math.round(height);
  cv.style.left = left + 'px'; cv.style.top = top + 'px';
  cv.style.width = Math.round(width) + 'px'; cv.style.height = Math.round(height) + 'px';
  fig.appendChild(cv);

  addText(p.title, 'panel', p.titleX, p.titleBase, 19.3);
  addText(p.sub, 'sub', (p.l + p.r) / 2, p.subBase, 9.3);

  const tickFont = { family: '"Liberation Sans", Arial, sans-serif', size: 11 };
  new Chart(cv, {
    type: 'line',
    data: { datasets: p.datasets },
    options: {
      responsive: false,
      animation: false,
      events: [],
      layout: { padding: { top: padTop, right: padRight, bottom: Math.round(height) - (p.b - top) - xh, left: 0 } },
      plugins: {
        legend: { display: false },
        title: { display: false },
        tooltip: { enabled: false },
        boxLegend: p.legend || { show: false }
      },
      scales: {
        x: {
          type: 'linear',
          min: p.xTicks[0],
          max: p.xTicks[p.xTicks.length - 1],
          afterBuildTicks: s => { s.ticks = p.xTicks.map(v => ({ value: v })); },
          afterFit: s => { s.height = xh; },
          grid: { display: false, drawTicks: false },
          border: { display: false },
          ticks: {
            autoSkip: false, maxRotation: 0, padding: 3, color: '#000', font: tickFont,
            callback: v => String(Math.floor(v + 1e-9))
          }
        },
        y: {
          type: 'linear',
          min: p.yTicks[0],
          max: p.yTicks[p.yTicks.length - 1],
          afterBuildTicks: s => { s.ticks = p.yTicks.map(v => ({ value: v })); },
          afterFit: s => { s.width = yw; },
          grid: { display: false, drawTicks: false },
          border: { display: false },
          ticks: { padding: 3, color: '#000', font: tickFont, callback: v => fmtNum(v) }
        }
      }
    },
    plugins: [boxTicks, boxLegend]
  });
}

const kurtTicks14 = [2, 4, 6, 8, 10, 12, 14];

makePanel({
  title: 'Panel A', titleX: 215, titleBase: 24, sub: 'Kurtosis', subBase: 46.7,
  l: 22.7, r: 425.7, t: 56.7, b: 310, yw: 22.7, padRight: 19,
  xTicks: yearTicksShort, yTicks: kurtTicks14,
  datasets: [
    series(nasdaqKurt, styles.blueThin, 'Nasdaq', 3),
    series(microsoftKurt, styles.redDotted, 'Microsoft', 2),
    series(amazonKurt, styles.black, 'Amazon', 1),
    series(normalKurtA, styles.refBlack, '', 4)
  ],
  legend: { show: true, anchor: 'left', dx: 11.6, dy: 1, w: 90, h: 51.6, first: 10.3, step: 16.2, x0: 5.7, x1: 33.7, tx: 38.4 }
});

makePanel({
  title: 'Panel B', titleX: 698.3, titleBase: 24, sub: 'Skewness', subBase: 46.7,
  l: 506.7, r: 909.3, t: 56.7, b: 310, yw: 32.7, padRight: 15.7,
  xTicks: yearTicksShort, yTicks: [-1.5, -1, -0.5, 0, 0.5, 1, 1.5],
  datasets: [
    series(nasdaqSkew, styles.blueThin, 'Nasdaq', 3),
    series(microsoftSkew, styles.redDotted, 'Microsoft', 2),
    series(amazonSkew, styles.black, 'Amazon', 1),
    series(zeroSkewB, styles.refBlack, '', 4)
  ],
  legend: { show: true, anchor: 'right', dx: 4.3, dy: 4, w: 88, h: 45.3, first: 9.3, step: 14, x0: 5, x1: 33.7, tx: 38.7 }
});

makePanel({
  title: 'Panel C', titleX: 215.3, titleBase: 373.5, sub: 'SP500 kurtosis', subBase: 396.7,
  l: 22.7, r: 425.7, t: 406, b: 660, yw: 22.7, padRight: 19,
  xTicks: yearTicksLong, yTicks: kurtTicks14,
  datasets: [
    series(sp500Kurt, styles.blueThin, '', 1),
    series(normalKurtC, styles.refRed, '', 2)
  ]
});

makePanel({
  title: 'Panel D', titleX: 698, titleBase: 373.5, sub: 'SP500 skewness', subBase: 396.7,
  l: 506.7, r: 909.3, t: 405.7, b: 660, yw: 32.7, padRight: 15.7,
  xTicks: yearTicksLong, yTicks: [-1.5, -1, -0.5, 0, 0.5],
  datasets: [
    series(sp500Skew, styles.blueThin, '', 1),
    series(zeroSkewD, styles.refRed, '', 2)
  ]
});

makePanel({
  title: 'Panel E', titleX: 215, titleBase: 723.7, sub: 'Kurtosis', subBase: 745.7,
  l: 22.7, r: 425.7, t: 755.7, b: 1009.3, yw: 22.7, padRight: 19,
  xTicks: yearTicksLong, yTicks: [2, 3, 4, 5, 6, 7, 8, 9, 10, 11, 12],
  datasets: [
    series(gbpKurt, styles.blueThick, 'USD GBP', 2),
    series(yenKurt, styles.black, 'USD YEN', 1),
    series(normalKurtE, styles.refBlack, '', 3)
  ],
  legend: { show: true, anchor: 'right', dx: 4.7, dy: 4.3, w: 93, h: 31, first: 8.3, step: 14.4, x0: 5, x1: 34.7, tx: 38.7 }
});

makePanel({
  title: 'Panel F', titleX: 698.7, titleBase: 723.7, sub: 'Skewness', subBase: 745.7,
  l: 506.7, r: 909.3, t: 755.7, b: 1009.3, yw: 32.7, padRight: 15.7,
  xTicks: yearTicksLong, yTicks: [-1.5, -1, -0.5, 0, 0.5, 1],
  datasets: [
    series(gbpSkew, styles.blueThick, 'USD GBP', 2),
    series(yenSkew, styles.black, 'USD YEN', 1),
    series(zeroSkewF, styles.refBlack, '', 3)
  ],
  legend: { show: true, anchor: 'right', dx: 4.3, dy: 4.3, w: 93, h: 31, first: 8.3, step: 14.4, x0: 5, x1: 34.7, tx: 38.7 }
});
</script>
</body>
</html>
